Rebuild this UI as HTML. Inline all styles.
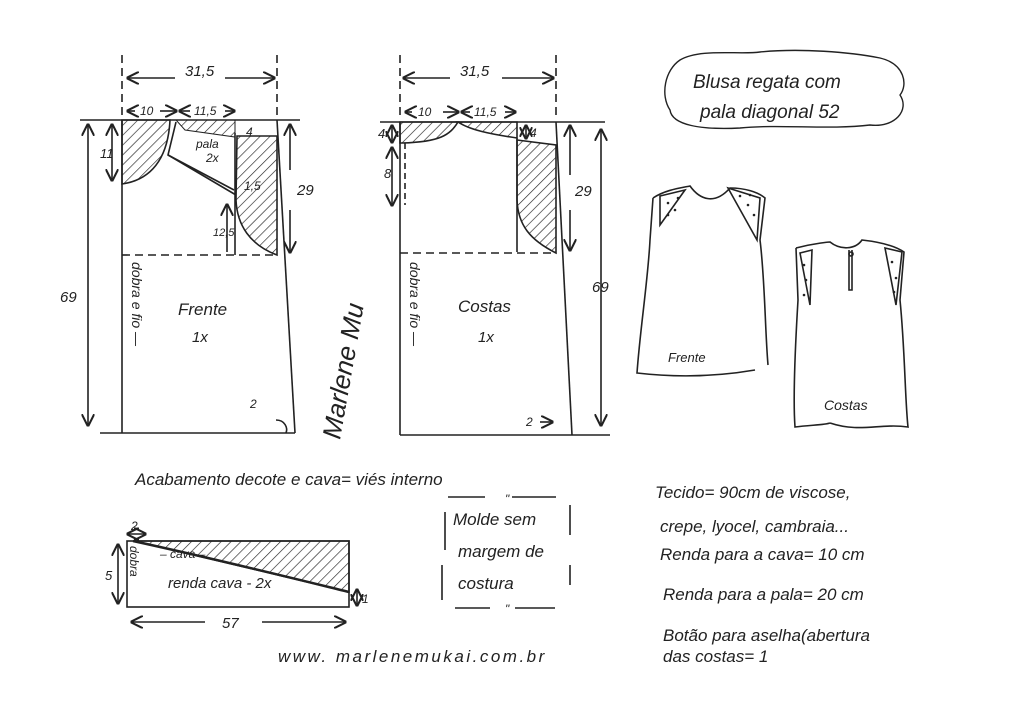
<!DOCTYPE html>
<html><head><meta charset="utf-8"><style>
html,body{margin:0;padding:0;background:#fff;}
svg{display:block}
text{font-family:"Liberation Sans",sans-serif;fill:#222;font-style:italic}
</style></head><body>
<svg width="1024" height="725" viewBox="0 0 1024 725" xmlns="http://www.w3.org/2000/svg">
<defs>
<pattern id="h" width="7" height="7" patternUnits="userSpaceOnUse" patternTransform="rotate(45)">
<line x1="0" y1="0" x2="0" y2="7" stroke="#222" stroke-width="1.3"/>
</pattern>
<marker id="a" markerWidth="8" markerHeight="8" refX="7" refY="4" orient="auto"><path d="M0,0 L8,4 L0,8" fill="none" stroke="#222" stroke-width="1.3"/></marker>
<marker id="b" markerWidth="8" markerHeight="8" refX="1" refY="4" orient="auto"><path d="M8,0 L0,4 L8,8" fill="none" stroke="#222" stroke-width="1.3"/></marker>
</defs>
<rect width="1024" height="725" fill="#fff"/>
<g stroke="#222" stroke-width="1.6" fill="none">
<!-- FRONT -->
<line x1="122" y1="55" x2="122" y2="120" stroke-dasharray="8 5"/>
<line x1="277" y1="55" x2="277" y2="120" stroke-dasharray="8 5"/>
<line x1="128" y1="78" x2="175" y2="78" marker-start="url(#b)"/>
<line x1="225" y1="78" x2="274" y2="78" marker-end="url(#a)"/>
<line x1="80" y1="120" x2="300" y2="120"/>
<path d="M122,120 H170 C168,160 150,180 122,184 Z" fill="url(#h)"/>
<path d="M176,120 L235,120 L235,137 L185,130 Z" fill="url(#h)" stroke-width="1"/>
<path d="M237,136 L277,136 L277,255 C250,245 237,225 236,200 Z" fill="url(#h)"/>
<line x1="122" y1="120" x2="122" y2="433"/>
<line x1="277" y1="120" x2="295" y2="433"/>
<line x1="122" y1="433" x2="295" y2="433"/>
<line x1="100" y1="433" x2="122" y2="433"/>
<line x1="122" y1="255" x2="277" y2="255" stroke-dasharray="8 5"/>
<line x1="235" y1="133" x2="235" y2="255"/>
<path d="M176,122 L168,155 L236,195" />
<path d="M168,155 L234,190"/>
<line x1="88" y1="125" x2="88" y2="425" marker-start="url(#b)" marker-end="url(#a)"/>
<line x1="112" y1="125" x2="112" y2="180" marker-start="url(#b)" marker-end="url(#a)"/>
<line x1="290" y1="125" x2="290" y2="170" marker-start="url(#b)"/>
<line x1="290" y1="210" x2="290" y2="252" marker-end="url(#a)"/>
<line x1="128" y1="111" x2="135" y2="111" marker-start="url(#b)"/>
<line x1="160" y1="111" x2="176" y2="111" marker-end="url(#a)"/>
<line x1="180" y1="111" x2="190" y2="111" marker-start="url(#b)"/>
<line x1="225" y1="111" x2="234" y2="111" marker-end="url(#a)"/>
<line x1="227" y1="205" x2="227" y2="252" marker-start="url(#b)"/>
<path d="M276,420 C285,420 288,428 286,433" />
<!-- BACK -->
<line x1="400" y1="55" x2="400" y2="120" stroke-dasharray="8 5"/>
<line x1="556" y1="55" x2="556" y2="120" stroke-dasharray="8 5"/>
<line x1="404" y1="78" x2="450" y2="78" marker-start="url(#b)"/>
<line x1="502" y1="78" x2="553" y2="78" marker-end="url(#a)"/>
<line x1="380" y1="122" x2="605" y2="122"/>
<path d="M400,122 H458 C450,135 440,142 402,143 L400,143 Z" fill="url(#h)"/>
<path d="M458,122 H517 L517,138 C490,134 470,130 458,122 Z" fill="url(#h)"/>
<path d="M517,140 L556,145 L556,253 C530,240 518,225 517,200 Z" fill="url(#h)"/>
<line x1="400" y1="122" x2="400" y2="435"/>
<line x1="556" y1="122" x2="572" y2="435"/>
<line x1="400" y1="435" x2="572" y2="435"/>
<line x1="572" y1="435" x2="610" y2="435"/>
<line x1="400" y1="253" x2="556" y2="253" stroke-dasharray="8 5"/>
<line x1="517" y1="138" x2="517" y2="252"/>
<line x1="405" y1="143" x2="405" y2="205" stroke-dasharray="6 4"/>
<line x1="392" y1="126" x2="392" y2="142" marker-start="url(#b)" marker-end="url(#a)"/>
<line x1="392" y1="148" x2="392" y2="205" marker-start="url(#b)" marker-end="url(#a)"/>
<line x1="570" y1="126" x2="570" y2="175" marker-start="url(#b)"/>
<line x1="570" y1="210" x2="570" y2="250" marker-end="url(#a)"/>
<line x1="601" y1="130" x2="601" y2="425" marker-start="url(#b)" marker-end="url(#a)"/>
<line x1="526" y1="126" x2="526" y2="138" marker-start="url(#b)" marker-end="url(#a)"/>
<line x1="406" y1="112" x2="412" y2="112" marker-start="url(#b)"/>
<line x1="443" y1="112" x2="458" y2="112" marker-end="url(#a)"/>
<line x1="462" y1="112" x2="470" y2="112" marker-start="url(#b)"/>
<line x1="505" y1="112" x2="515" y2="112" marker-end="url(#a)"/>
<line x1="540" y1="422" x2="552" y2="422" marker-end="url(#a)"/>
<!-- cloud -->
<path d="M680,60 C700,48 740,55 760,52 C800,48 850,52 880,58 C905,64 908,85 900,95 C910,110 895,128 870,125 C830,130 780,124 740,128 C700,130 672,125 670,110 C660,95 665,70 680,60 Z" stroke-width="1.4"/>
<!-- strip -->
<rect x="127" y="541" width="222" height="66"/>
<path d="M135,541 L349,541 L349,592 Z" fill="url(#h)"/>
<path d="M133,541 C220,560 300,580 349,592" stroke-width="2.5"/>
<line x1="118" y1="545" x2="118" y2="603" marker-start="url(#b)" marker-end="url(#a)"/>
<line x1="128" y1="534" x2="145" y2="534" marker-start="url(#b)" marker-end="url(#a)"/>
<line x1="357" y1="590" x2="357" y2="605" marker-start="url(#b)" marker-end="url(#a)"/>
<line x1="132" y1="622" x2="205" y2="622" marker-start="url(#b)"/>
<line x1="262" y1="622" x2="345" y2="622" marker-end="url(#a)"/>
<!-- molde box -->
<path d="M445,512 V550 M442,565 V600 M570,505 V535 M570,565 V585 M448,497 H485 M512,497 H556 M455,608 H490 M515,608 H555"/>
<!-- front blouse sketch -->
<path d="M653,198 C665,190 680,188 690,186 C700,200 715,205 730,188 C745,188 758,192 765,198 L760,240 C765,280 765,330 768,365 M653,198 L650,240 C648,280 640,330 637,373 C680,378 720,376 755,370"/>
<path d="M660,196 L685,190 L660,225 Z M728,188 L760,198 L757,240 Z"/>
<!-- back blouse sketch -->
<path d="M796,248 C815,243 830,242 830,242 C840,250 855,250 862,240 C880,242 895,246 904,252 L900,300 C905,350 905,400 908,427 C880,423 860,433 830,423 M796,248 L798,300 C795,350 793,400 795,427 C810,425 825,425 830,423"/>
<path d="M800,253 L812,250 L810,305 Z M885,248 L902,252 L896,305 Z"/>
<path d="M849,250 L849,290 L852,290 L852,250"/>
<circle cx="851" cy="254" r="2"/>
</g>
<g fill="#222">
<circle cx="668" cy="203" r="1.3"/><circle cx="675" cy="210" r="1.3"/><circle cx="668" cy="215" r="1.3"/><circle cx="678" cy="198" r="1.3"/>
<circle cx="740" cy="196" r="1.3"/><circle cx="748" cy="205" r="1.3"/><circle cx="754" cy="215" r="1.3"/><circle cx="750" cy="195" r="1.3"/>
<circle cx="804" cy="265" r="1.3"/><circle cx="806" cy="280" r="1.3"/><circle cx="804" cy="295" r="1.3"/>
<circle cx="892" cy="262" r="1.3"/><circle cx="896" cy="278" r="1.3"/><circle cx="894" cy="292" r="1.3"/>
</g>
<g font-size="15">
<text x="185" y="76">31,5</text>
<text x="460" y="76">31,5</text>
<text x="140" y="115" font-size="12">10</text>
<text x="194" y="115" font-size="12">11,5</text>
<text x="418" y="116" font-size="12">10</text>
<text x="474" y="116" font-size="12">11,5</text>
<text x="246" y="136" font-size="12">4</text>
<text x="530" y="137" font-size="12">4</text>
<text x="100" y="158" font-size="13">11</text>
<text x="378" y="138" font-size="13">4</text>
<text x="384" y="178" font-size="13">8</text>
<text x="297" y="195">29</text>
<text x="575" y="196">29</text>
<text x="60" y="302">69</text>
<text x="592" y="292">69</text>
<text x="244" y="190" font-size="12">1,5</text>
<text x="213" y="236" font-size="11">12,5</text>
<text x="196" y="148" font-size="12">pala</text>
<text x="206" y="162" font-size="12">2x</text>
<text x="178" y="315" font-size="17">Frente</text>
<text x="192" y="342" font-size="15">1x</text>
<text x="458" y="312" font-size="17">Costas</text>
<text x="478" y="342" font-size="15">1x</text>
<text x="250" y="408" font-size="12">2</text>
<text x="526" y="426" font-size="12">2</text>
<text transform="translate(132,262) rotate(90)" font-size="14">dobra e fio —</text>
<text transform="translate(410,262) rotate(90)" font-size="14">dobra e fio —</text>
<text transform="translate(340,440) rotate(-80)" font-size="26" font-family="Liberation Serif,serif">Marlene Mu</text>
<text x="693" y="88" font-size="19">Blusa regata com</text>
<text x="700" y="118" font-size="19">pala diagonal   52</text>
<text x="668" y="362" font-size="13">Frente</text>
<text x="824" y="410" font-size="14">Costas</text>
<text x="135" y="485" font-size="17">Acabamento  decote e cava= viés interno</text>
<text x="131" y="530" font-size="12">2</text>
<text x="105" y="580" font-size="13">5</text>
<text transform="translate(130,546) rotate(90)" font-size="12">dobra</text>
<text x="160" y="558" font-size="12">– cava –</text>
<text x="168" y="588" font-size="15">renda cava - 2x</text>
<text x="362" y="603" font-size="12">1</text>
<text x="222" y="628" font-size="15">57</text>
<text x="453" y="525" font-size="17">Molde sem</text>
<text x="458" y="557" font-size="17">margem de</text>
<text x="458" y="589" font-size="17">costura</text>
<text x="505" y="503" font-size="12">"</text>
<text x="505" y="613" font-size="12">"</text>
<text x="278" y="662" font-size="17" letter-spacing="2.5">www. marlenemukai.com.br</text>
<text x="655" y="498" font-size="17">Tecido= 90cm  de  viscose,</text>
<text x="660" y="532" font-size="17">crepe, lyocel, cambraia...</text>
<text x="660" y="560" font-size="17">Renda para a cava= 10 cm</text>
<text x="663" y="600" font-size="17">Renda para a pala= 20 cm</text>
<text x="663" y="641" font-size="17">Botão para aselha(abertura</text>
<text x="663" y="662" font-size="17">das  costas= 1</text>
</g>
</svg>
</body></html>
